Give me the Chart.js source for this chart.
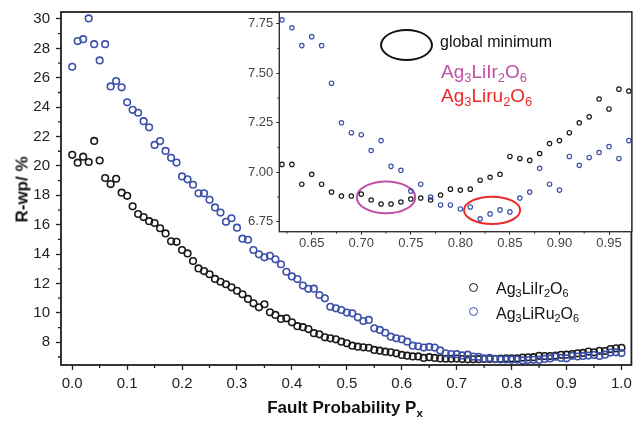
<!DOCTYPE html>
<html>
<head>
<meta charset="utf-8">
<script src="https://cdn.jsdelivr.net/npm/chart.js@4.4.0/dist/chart.umd.min.js"></script>
<style>
  body { margin: 0; background: #fff; }
  #wrap { position: relative; width: 637px; height: 425px; font-family: "Liberation Sans", Arial, sans-serif; color: #111; }
  canvas { position: absolute; }
  .lbl { position: absolute; white-space: nowrap; line-height: 1; }
  .lbl sub { font-size: 0.68em; vertical-align: baseline; position: relative; top: 0.32em; }
  .dot { position: absolute; width: 9px; height: 9px; box-sizing: border-box; border-radius: 50%; border: 1.6px solid; }
</style>
</head>
<body>
<div id="wrap">
  <canvas id="main" width="637" height="425" style="left:0;top:0;width:637px;height:425px"></canvas>
  <canvas id="inset" width="407" height="260" style="left:230px;top:0;width:407px;height:260px"></canvas>

  <div class="lbl" style="left:-38px;top:181px;width:120px;text-align:center;font-weight:bold;font-size:17px;transform:rotate(-90deg)">R-wp/ %</div>
  <div class="lbl" style="left:55px;top:399px;width:580px;text-align:center;font-weight:bold;font-size:17px">Fault Probability P<sub>x</sub></div>

  <span class="dot" style="left:469px;top:283px;border-color:#1a1a1a"></span>
  <div class="lbl" style="left:496px;top:280.5px;font-size:16px">Ag<sub>3</sub>LiIr<sub>2</sub>O<sub>6</sub></div>
  <span class="dot" style="left:469px;top:307px;border-color:#3c50aa"></span>
  <div class="lbl" style="left:496px;top:305.5px;font-size:16px">Ag<sub>3</sub>LiRu<sub>2</sub>O<sub>6</sub></div>

  <div style="position:absolute;left:380px;top:28.5px;width:53px;height:32px;box-sizing:border-box;border:2px solid #111;border-radius:50%"></div>
  <div class="lbl" style="left:440px;top:33.5px;font-size:16px">global minimum</div>
  <div class="lbl" style="left:441px;top:61.5px;font-size:19px;color:#c04fa8">Ag<sub>3</sub>LiIr<sub>2</sub>O<sub>6</sub></div>
  <div class="lbl" style="left:441px;top:85.5px;font-size:19px;color:#ec2a2a">Ag<sub>3</sub>Liru<sub>2</sub>O<sub>6</sub></div>
</div>
<script>
// fault probability grid
const px = [0.00,0.01,0.02,0.03,0.04,0.05,0.06,0.07,0.08,0.09,
  0.10,0.11,0.12,0.13,0.14,0.15,0.16,0.17,0.18,0.19,
  0.20,0.21,0.22,0.23,0.24,0.25,0.26,0.27,0.28,0.29,
  0.30,0.31,0.32,0.33,0.34,0.35,0.36,0.37,0.38,0.39,
  0.40,0.41,0.42,0.43,0.44,0.45,0.46,0.47,0.48,0.49,
  0.50,0.51,0.52,0.53,0.54,0.55,0.56,0.57,0.58,0.59,
  0.60,0.61,0.62,0.63,0.64,0.65,0.66,0.67,0.68,0.69,
  0.70,0.71,0.72,0.73,0.74,0.75,0.76,0.77,0.78,0.79,
  0.80,0.81,0.82,0.83,0.84,0.85,0.86,0.87,0.88,0.89,
  0.90,0.91,0.92,0.93,0.94,0.95,0.96,0.97,0.98,0.99,1.00];

// R-wp (%) for Ag3LiIr2O6
const rIr = [20.76,20.22,20.63,20.27,21.70,20.37,19.18,18.77,19.13,18.18,
  17.97,17.25,16.73,16.52,16.24,16.12,15.76,15.41,14.87,14.84,
  14.28,14.05,13.53,13.03,12.85,12.63,12.31,12.12,11.95,11.74,
  11.51,11.27,10.95,10.65,10.38,10.59,10.04,9.86,9.59,9.63,
  9.36,9.10,9.03,8.90,8.62,8.54,8.34,8.27,8.20,8.04,
  7.93,7.77,7.70,7.66,7.63,7.48,7.43,7.36,7.32,7.25,
  7.14,7.09,7.04,7.04,6.94,6.99,6.94,6.90,6.88,6.88,
  6.89,6.86,6.84,6.84,6.85,6.865,6.87,6.86,6.885,6.915,
  6.91,6.915,6.96,6.975,6.99,7.08,7.07,7.06,7.095,7.145,
  7.16,7.20,7.25,7.28,7.37,7.32,7.42,7.41,7.54,7.59,7.63];

// R-wp (%) for Ag3LiRu2O6
const rRu = [26.75,28.50,28.63,30.04,28.29,27.18,28.29,25.41,25.78,25.35,
  24.33,23.82,23.62,23.05,22.63,21.43,21.69,21.02,20.55,20.23,
  19.29,19.09,18.72,18.14,18.14,17.70,17.18,16.83,16.20,16.44,
  15.80,15.05,14.98,14.28,13.99,13.78,13.89,13.65,13.31,12.80,
  12.48,12.30,11.86,11.64,11.65,11.22,10.99,10.42,10.31,10.20,
  10.02,9.97,9.70,9.45,9.52,8.95,8.84,8.65,8.38,8.27,
  8.20,8.04,7.77,7.73,7.64,7.685,7.64,7.45,7.25,7.20,
  7.19,7.11,7.16,7.03,7.01,6.905,6.94,6.875,6.835,6.835,
  6.815,6.825,6.765,6.79,6.81,6.80,6.87,6.90,7.02,6.94,
  6.91,7.08,7.035,7.075,7.10,7.13,7.07,7.16,7.30,7.32,7.27];

const mainXTicks = [0.0, 1.0, 0.1];
const mainYTicks = [8, 30, 2];
const insetXTicks = [0.65, 0.95, 0.05];
const insetYTicks = [6.75, 7.75, 0.25];

// rings marking the minima in the inset: centre x, centre y, half width, half height
const rings = [
  { cx: 0.725, cy: 6.873, rx: 0.0295, ry: 0.080, color: '#c04fa8' },
  { cx: 0.832, cy: 6.808, rx: 0.0283, ry: 0.069, color: '#ec2a2a' }
];

Chart.defaults.font.family = '"Liberation Sans", Arial, sans-serif';

const pts = (ys) => px.map((x, i) => ({ x: x, y: ys[i] }));

// box round the plot area plus the short unlabelled ticks between labels
const framePlugin = {
  id: 'frame',
  afterDraw(chart, args, o) {
    const { ctx, chartArea: a, scales: { x, y } } = chart;
    ctx.save();
    ctx.strokeStyle = o.color;
    ctx.lineWidth = o.width;
    ctx.beginPath();
    for (let k = Math.ceil(x.min / o.xMinor); k * o.xMinor <= x.max; k++) {
      if (Math.abs(k) % 2 !== 1) continue;
      const p = x.getPixelForValue(k * o.xMinor);
      ctx.moveTo(p, a.bottom);
      ctx.lineTo(p, a.bottom + o.minorLen);
    }
    for (let k = Math.ceil(y.min / o.yMinor); k * o.yMinor <= y.max; k++) {
      if (Math.abs(k) % 2 !== 1) continue;
      const p = y.getPixelForValue(k * o.yMinor);
      ctx.moveTo(a.left, p);
      ctx.lineTo(a.left - o.minorLen, p);
    }
    ctx.stroke();
    ctx.lineWidth = o.frameWidth;
    ctx.strokeRect(a.left, a.top, a.right - a.left, a.bottom - a.top);
    ctx.restore();
  }
};

const ringPlugin = {
  id: 'rings',
  beforeDatasetsDraw(chart) {
    const { ctx, chartArea: a, scales: { x, y } } = chart;
    ctx.save();
    ctx.fillStyle = '#fff';
    ctx.fillRect(a.left, a.top, a.right - a.left, a.bottom - a.top);
    ctx.lineWidth = 2;
    rings.forEach((r) => {
      const cx = x.getPixelForValue(r.cx), cy = y.getPixelForValue(r.cy);
      const rx = Math.abs(x.getPixelForValue(r.cx + r.rx) - cx);
      const ry = Math.abs(y.getPixelForValue(r.cy + r.ry) - cy);
      ctx.strokeStyle = r.color;
      ctx.beginPath();
      ctx.ellipse(cx, cy, rx, ry, 0, 0, Math.PI * 2);
      ctx.stroke();
    });
    ctx.restore();
  }
};

function axis(t, opt) {
  return {
    type: 'linear',
    min: opt.min,
    max: opt.max,
    border: { display: false },
    grid: { drawOnChartArea: false, drawTicks: true, tickLength: opt.tl, tickColor: '#222', tickWidth: opt.tw },
    ticks: {
      stepSize: t[2], includeBounds: false, autoSkip: false, maxRotation: 0,
      padding: opt.pad, color: opt.color, font: { size: opt.size },
      callback: (v) => (v < t[0] - 1e-9 || v > t[1] + 1e-9) ? '' : v.toFixed(opt.dec)
    },
    afterFit(s) {
      if (opt.w) s.width = opt.w;
      if (opt.h) s.height = opt.h;
      s.paddingTop = 0; s.paddingBottom = 0; s.paddingLeft = 0; s.paddingRight = 0;
    }
  };
}

function series(ys, label, color, r, bw) {
  return {
    label: label, data: pts(ys), showLine: false,
    pointStyle: 'circle', pointRadius: r, pointBorderWidth: bw,
    borderColor: color, backgroundColor: 'rgba(0,0,0,0)', clip: 3
  };
}

new Chart(document.getElementById('main'), {
  type: 'scatter',
  data: { datasets: [
    series(rRu, 'Ag3LiRu2O6', '#3c50aa', 3.3, 1.6),
    series(rIr, 'Ag3LiIr2O6', '#1a1a1a', 3.3, 1.6)
  ] },
  options: {
    responsive: false, animation: false, events: [],
    layout: { padding: { left: 0, top: 12, right: 2, bottom: 0 } },
    plugins: {
      legend: { display: false }, tooltip: { enabled: false },
      frame: { color: '#222', width: 1.3, frameWidth: 1.8, minorLen: 3, xMinor: 0.05, yMinor: 1 }
    },
    scales: {
      x: axis(mainXTicks, { min: -0.0204, max: 1.0181, tl: 5, tw: 1.3, pad: 5, size: 15, color: '#222', dec: 1, h: 60 }),
      y: axis(mainYTicks, { min: 6.456, max: 30.476, tl: 5, tw: 1.3, pad: 6, size: 15, color: '#222', dec: 0, w: 61 })
    }
  },
  plugins: [framePlugin]
});

new Chart(document.getElementById('inset'), {
  type: 'scatter',
  data: { datasets: [
    series(rRu, 'Ag3LiRu2O6', '#3c50aa', 2.2, 1.2),
    series(rIr, 'Ag3LiIr2O6', '#1a1a1a', 2.2, 1.2)
  ] },
  options: {
    responsive: false, animation: false, events: [],
    layout: { padding: { left: 0, top: 12, right: 2, bottom: 0 } },
    plugins: {
      legend: { display: false }, tooltip: { enabled: false },
      frame: { color: '#333', width: 1, frameWidth: 1.4, minorLen: 2, xMinor: 0.025, yMinor: 0.125 }
    },
    scales: {
      x: axis(insetXTicks, { min: 0.6173, max: 0.973, tl: 3, tw: 1, pad: 1, size: 13, color: '#444', dec: 2, h: 28.3 }),
      y: axis(insetYTicks, { min: 6.70, max: 7.8096, tl: 3, tw: 1, pad: 3, size: 13, color: '#444', dec: 2, w: 49.3 })
    }
  },
  plugins: [ringPlugin, framePlugin]
});
</script>
</body>
</html>
